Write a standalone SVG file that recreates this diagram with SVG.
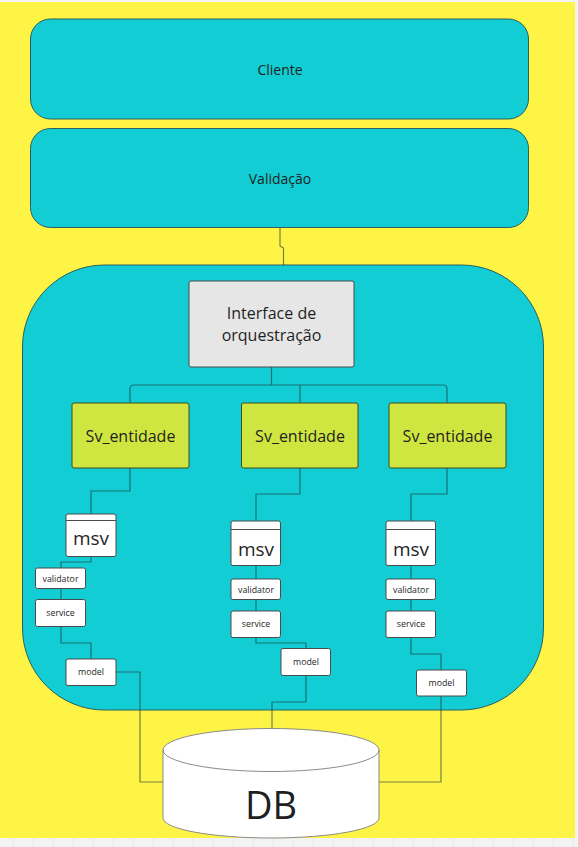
<svg xmlns="http://www.w3.org/2000/svg" width="578" height="847" viewBox="0 0 578 847">
<defs>
<style>
.t{font-family:"Open Sans","Liberation Sans",sans-serif;fill:#1f1f1f;text-anchor:middle}
.lay{fill:#12cdd4;stroke:#2b5f61;stroke-width:1}
.sv{fill:#d0e640;stroke:#3f4a1a;stroke-width:1}
.wb{fill:#ffffff;stroke:#4a4a4a;stroke-width:1}
.cn{fill:none;stroke:#1e3436;stroke-opacity:0.6;stroke-width:1.2;stroke-linejoin:round}
.grid{stroke:#e8e8e8;stroke-width:1}
.s{font-size:8.8px}
</style>
</defs>
<rect x="0" y="0" width="578" height="847" fill="#f3f3f3"/>
<g class="grid">
<line x1="13" y1="838" x2="13" y2="847"/><line x1="33" y1="838" x2="33" y2="847"/><line x1="53" y1="838" x2="53" y2="847"/><line x1="73" y1="838" x2="73" y2="847"/><line x1="93" y1="838" x2="93" y2="847"/><line x1="113" y1="838" x2="113" y2="847"/><line x1="133" y1="838" x2="133" y2="847"/><line x1="153" y1="838" x2="153" y2="847"/><line x1="173" y1="838" x2="173" y2="847"/><line x1="193" y1="838" x2="193" y2="847"/><line x1="213" y1="838" x2="213" y2="847"/><line x1="233" y1="838" x2="233" y2="847"/><line x1="253" y1="838" x2="253" y2="847"/><line x1="273" y1="838" x2="273" y2="847"/><line x1="293" y1="838" x2="293" y2="847"/><line x1="313" y1="838" x2="313" y2="847"/><line x1="333" y1="838" x2="333" y2="847"/><line x1="353" y1="838" x2="353" y2="847"/><line x1="373" y1="838" x2="373" y2="847"/><line x1="393" y1="838" x2="393" y2="847"/><line x1="413" y1="838" x2="413" y2="847"/><line x1="433" y1="838" x2="433" y2="847"/><line x1="453" y1="838" x2="453" y2="847"/><line x1="473" y1="838" x2="473" y2="847"/><line x1="493" y1="838" x2="493" y2="847"/><line x1="513" y1="838" x2="513" y2="847"/><line x1="533" y1="838" x2="533" y2="847"/><line x1="553" y1="838" x2="553" y2="847"/><line x1="573" y1="838" x2="573" y2="847"/>
</g>
<rect x="0" y="2" width="575" height="836" fill="#fef445"/>

<g id="cliente">
<rect class="lay" x="30.5" y="19" width="498" height="100" rx="20"/>
<text class="t" x="280" y="75" font-size="14">Cliente</text>
</g>
<g id="validacao">
<rect class="lay" x="30.5" y="128.5" width="498" height="99" rx="20"/>
<text class="t" x="280" y="184" font-size="14">Validação</text>
</g>
<g id="container">
<rect class="lay" x="22.5" y="265" width="521" height="445" rx="82"/>
</g>

<g id="connectors">
<path class="cn" d="M280 228 V246 L283.5 248 V265"/>
<path class="cn" d="M271.5 367 V385 M130 403 V389 Q130 385 134 385 H443 Q447 385 447 389 V403 M300 385 V403"/>
<path class="cn" d="M130 468 V491 H91 V514"/>
<path class="cn" d="M91 557 V562 H61 V568"/>
<path class="cn" d="M61 588 V599"/>
<path class="cn" d="M61 627 V643 H91 V659"/>
<path class="cn" d="M116 672 H140 V782 H163"/>
<path class="cn" d="M300 468 V494 H256 V521"/>
<path class="cn" d="M256 565 V579 M256 599 V611"/>
<path class="cn" d="M256 637 V643 H306 V648"/>
<path class="cn" d="M306 675 V702 H272 V728"/>
<path class="cn" d="M447 468 V494 H411 V521"/>
<path class="cn" d="M411 565 V579 M411 599 V611"/>
<path class="cn" d="M411 637 V654 H441 V670"/>
<path class="cn" d="M441 696 V782 H379"/>
</g>

<g id="interface">
<rect x="189" y="281" width="165" height="86" rx="2" fill="#e6e6e6" stroke="#4a4a4a"/>
<text class="t" x="271.5" y="319" font-size="16">Interface de</text>
<text class="t" x="271.5" y="341" font-size="16">orquestração</text>
</g>

<g id="sv1"><rect class="sv" x="72" y="403" width="117" height="65" rx="2"/><text class="t" x="130.5" y="442" font-size="16">Sv_entidade</text></g>
<g id="sv2"><rect class="sv" x="241.5" y="403" width="116.5" height="65" rx="2"/><text class="t" x="300" y="442" font-size="16">Sv_entidade</text></g>
<g id="sv3"><rect class="sv" x="389" y="403" width="117" height="65" rx="2"/><text class="t" x="447.5" y="442" font-size="16">Sv_entidade</text></g>

<g id="msv1"><rect class="wb" x="66" y="514" width="50" height="42.5" rx="2"/><line x1="66" y1="520.5" x2="116" y2="520.5" stroke="#4a4a4a"/><text class="t" x="91" y="545" font-size="19">msv</text></g>
<g id="validator1"><rect class="wb" x="35.5" y="568" width="50" height="20.5" rx="2"/><text class="t s" x="60.5" y="581.5">validator</text></g>
<g id="service1"><rect class="wb" x="35.5" y="599.5" width="50" height="27" rx="2"/><text class="t s" x="60.5" y="616">service</text></g>
<g id="model1"><rect class="wb" x="66" y="659" width="50" height="26.5" rx="2"/><text class="t s" x="91" y="675">model</text></g>

<g id="msv2"><rect class="wb" x="231" y="521" width="49.5" height="44.5" rx="2"/><line x1="231" y1="529.5" x2="280.5" y2="529.5" stroke="#4a4a4a"/><text class="t" x="256" y="556" font-size="19">msv</text></g>
<g id="validator2"><rect class="wb" x="231" y="579" width="49.5" height="20.5" rx="2"/><text class="t s" x="256" y="592.5">validator</text></g>
<g id="service2"><rect class="wb" x="231" y="611" width="49.5" height="26.5" rx="2"/><text class="t s" x="256" y="627">service</text></g>
<g id="model2"><rect class="wb" x="281" y="648.5" width="49.5" height="27" rx="2"/><text class="t s" x="306" y="665">model</text></g>

<g id="msv3"><rect class="wb" x="386" y="521" width="49.5" height="44.5" rx="2"/><line x1="386" y1="529.5" x2="435.5" y2="529.5" stroke="#4a4a4a"/><text class="t" x="411" y="556" font-size="19">msv</text></g>
<g id="validator3"><rect class="wb" x="386" y="579" width="49.5" height="20.5" rx="2"/><text class="t s" x="411" y="592.5">validator</text></g>
<g id="service3"><rect class="wb" x="386" y="611" width="49.5" height="26.5" rx="2"/><text class="t s" x="411" y="627">service</text></g>
<g id="model3"><rect class="wb" x="416.5" y="670" width="50" height="26" rx="2"/><text class="t s" x="441.5" y="686">model</text></g>

<g id="db">
<path d="M163 750 A108 21.5 0 0 1 379 750 V818 A108 20 0 0 1 163 818 Z" fill="#ffffff" stroke="#8a8a8a" stroke-width="1"/>
<path d="M163 750 A108 21.5 0 0 0 379 750" fill="none" stroke="#8a8a8a" stroke-width="1"/>
<text class="t" x="271" y="819" font-size="38">DB</text>
</g>
</svg>
